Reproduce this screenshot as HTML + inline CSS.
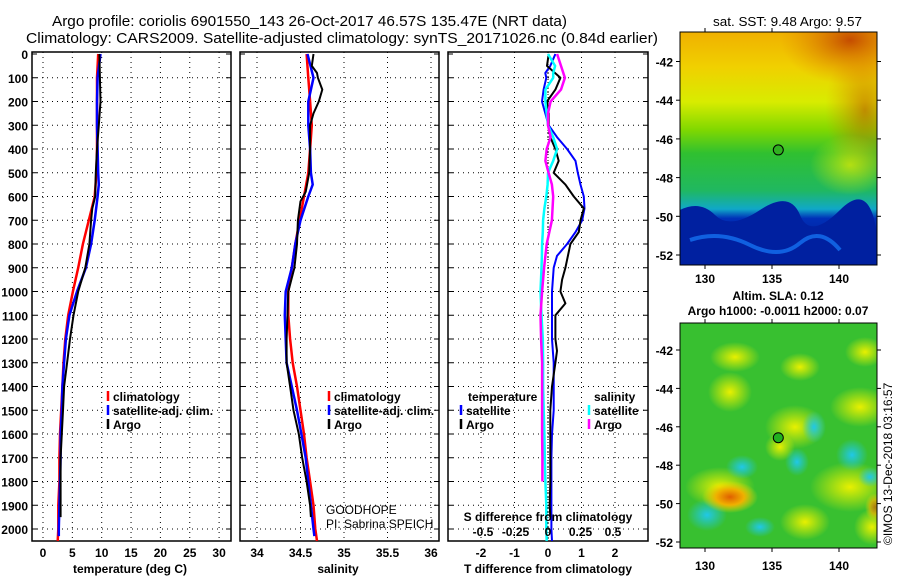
<!DOCTYPE html>
<html><head><meta charset="utf-8">
<style>
html,body{margin:0;padding:0;background:#fff;}
svg{display:block;font-family:"Liberation Sans",sans-serif;}
.t{font-weight:bold;font-size:12px;}
</style></head>
<body>
<svg id="fig" width="900" height="580" viewBox="0 0 900 580" xmlns="http://www.w3.org/2000/svg">
<defs>
<linearGradient id="sstg" x1="0" y1="0" x2="0" y2="1">
<stop offset="0" stop-color="#f0b000"/>
<stop offset="0.15" stop-color="#f0d000"/>
<stop offset="0.3" stop-color="#d8ec00"/>
<stop offset="0.42" stop-color="#80d800"/>
<stop offset="0.52" stop-color="#30c030"/>
<stop offset="0.68" stop-color="#20b860"/>
<stop offset="0.76" stop-color="#10a8c8"/>
<stop offset="0.8" stop-color="#0030b8"/>
<stop offset="1" stop-color="#001080"/>
</linearGradient>
<radialGradient id="hot" cx="0.5" cy="0.5" r="0.5"><stop offset="0" stop-color="#c04000" stop-opacity="0.9"/><stop offset="1" stop-color="#e08000" stop-opacity="0"/></radialGradient>
<radialGradient id="yb" cx="0.5" cy="0.5" r="0.5"><stop offset="0" stop-color="#e8f000"/><stop offset="1" stop-color="#e8f000" stop-opacity="0"/></radialGradient>
<radialGradient id="cb" cx="0.5" cy="0.5" r="0.5"><stop offset="0" stop-color="#20c8e8"/><stop offset="1" stop-color="#20c8e8" stop-opacity="0"/></radialGradient>
<radialGradient id="ob" cx="0.5" cy="0.5" r="0.5"><stop offset="0" stop-color="#e06000"/><stop offset="0.5" stop-color="#f0b000"/><stop offset="1" stop-color="#f0e000" stop-opacity="0"/></radialGradient>
<clipPath id="m1c"><rect x="680" y="32" width="197" height="233"/></clipPath>
<clipPath id="m2c"><rect x="680" y="323" width="197" height="225"/></clipPath>
</defs>
<text x="52" y="26" font-size="15" textLength="515" lengthAdjust="spacingAndGlyphs">Argo profile: coriolis 6901550_143 26-Oct-2017 46.57S 135.47E (NRT data)</text>
<text x="26" y="43" font-size="15" textLength="632" lengthAdjust="spacingAndGlyphs">Climatology: CARS2009. Satellite-adjusted climatology: synTS_20171026.nc (0.84d earlier)</text>
<text x="713" y="26" font-size="13" textLength="149" lengthAdjust="spacingAndGlyphs">sat. SST: 9.48 Argo: 9.57</text>
<g id="plots"></g>
<g id="maps"></g>
</svg>
<script>
// ---- data ----
const depthsClimT = [0,100,200,300,400,500,600,700,800,900,1000,1100,1200,1300,1400,1500,1600,1700,1800,1900,2000,2050];
const climTemp = [9.4,9.2,9.2,9.2,9.2,9.1,8.8,7.8,6.8,6.0,5.1,4.3,3.8,3.5,3.3,3.1,2.9,2.8,2.8,2.6,2.6,2.5];
const depthsSatT = [0,100,200,300,400,500,550,600,700,800,900,1000,1100,1200,1300,1400,1500,1600,1700,1800,1900,2000,2030];
const satTemp = [9.8,9.3,9.2,9.2,9.3,9.4,9.5,9.3,8.8,8.2,7.3,5.8,4.5,3.9,3.6,3.3,3.2,3.0,3.0,2.9,2.8,2.7,2.7];
const depthsArgo = [0,100,200,300,400,500,600,650,700,800,900,1000,1100,1200,1300,1400,1500,1600,1700,1800,1900,1950];
const argoTemp = [9.6,9.7,9.8,9.5,9.2,9.0,8.9,8.4,8.2,7.9,7.2,6.0,5.2,4.6,4.1,3.6,3.4,3.2,3.0,3.0,3.0,3.0];
const climSal = [34.57,34.59,34.61,34.63,34.61,34.59,34.54,34.49,34.44,34.40,34.36,34.36,34.38,34.41,34.46,34.50,34.54,34.57,34.61,34.65,34.67,34.69];
const satSal = [34.58,34.65,34.59,34.59,34.61,34.62,34.64,34.59,34.50,34.44,34.40,34.33,34.32,34.33,34.34,34.40,34.46,34.51,34.56,34.59,34.62,34.65,34.66];
const depthsArgoS = [0,50,80,100,150,200,250,300,400,500,580,620,700,800,900,1000,1100,1200,1300,1400,1500,1600,1700,1800,1900,1950];
const argoSal = [34.65,34.63,34.69,34.70,34.75,34.71,34.65,34.61,34.61,34.60,34.56,34.50,34.47,34.46,34.43,34.36,34.35,34.34,34.34,34.38,34.42,34.48,34.52,34.57,34.61,34.62];
const depthsDiff = [0,50,80,100,150,200,250,300,350,400,450,500,550,600,650,700,750,800,850,900,1000,1100,1200,1300,1400,1500,1600,1700,1800,1900,2000,2050];
const dTsat = [0.22,0.07,-0.08,-0.05,-0.13,-0.18,-0.08,0.02,0.27,0.57,0.82,0.89,0.97,1.07,1.09,1.02,0.82,0.57,0.27,0.17,0.12,0.12,0.12,0.17,0.17,0.17,0.12,0.10,0.10,0.10,0.10,0.12];
const depthsDiffA = [0,50,100,150,200,250,300,350,400,450,500,550,600,650,700,750,800,900,950,1000,1050,1100,1200,1250,1300,1400,1500,1600,1700,1800,1900,1950];
const dTargo = [0.02,-0.03,0.37,0.22,-0.03,0.02,0.02,0.07,0.22,0.32,0.17,0.52,0.77,1.07,0.97,0.92,0.67,0.52,0.42,0.37,0.52,0.22,0.22,0.27,0.22,0.12,0.07,0.07,0.07,0.07,0.05,0.07];
const dSsat = [0.0,0.055,0.04,0.04,-0.02,-0.02,-0.01,0.0,0.04,0.07,0.04,0.0,-0.003,-0.013,-0.028,-0.038,-0.04,-0.045,-0.047,-0.05,-0.058,-0.05,-0.04,-0.038,-0.038,-0.033,-0.028,-0.025,-0.02,-0.013,-0.013,-0.01];
const depthsDiffSA = [0,50,100,150,200,250,300,350,400,450,500,550,600,700,800,850,900,1000,1100,1200,1300,1400,1500,1600,1700,1800];
const dSargo = [0.07,0.10,0.13,0.10,0.02,0.0,0.0,0.02,-0.01,-0.02,0.005,0.03,0.04,0.03,-0.01,-0.02,-0.03,-0.045,-0.058,-0.053,-0.045,-0.045,-0.045,-0.045,-0.043,-0.043];
const depthTicks = [0,100,200,300,400,500,600,700,800,900,1000,1100,1200,1300,1400,1500,1600,1700,1800,1900,2000];
const tempTicks = [0,5,10,15,20,25,30];
const salTicks = [34,34.5,35,35.5,36];
const salTickLabels = ['34','34.5','35','35.5','36'];
const dTTicks = [-2,-1,0,1,2];
const dSTicks = [-0.5,-0.25,0,0.25,0.5];
const dSTickLabels = ['-0.5','-0.25','0','0.25','0.5'];
const lonTicks = [130,135,140];
const latTicks = [-42,-44,-46,-48,-50,-52];

const NS='http://www.w3.org/2000/svg';
const plots=document.getElementById('plots');
function el(tag,attrs,parent,txt){const e=document.createElementNS(NS,tag);for(const k in attrs)e.setAttribute(k,attrs[k]);if(txt!==undefined)e.textContent=txt;(parent||plots).appendChild(e);return e;}
const yTop=52,yBot=541;
const yScale=d=>54+d*0.2375;

function panel(name,x0,x1,xs,ticks,labels,xlabel,xlabelX){
  const g=el('g',{});
  
  
  depthTicks.forEach(d=>{if(d>0){const l=el('line',{x1:x0,x2:x1,y1:yScale(d),y2:yScale(d),stroke:'#000','stroke-width':1,'stroke-dasharray':'1,4'},g);}
    const tk=el('line',{x1:x0,x2:x0+5,y1:yScale(d),y2:yScale(d),stroke:'#000'},g);
    const tk2=el('line',{x1:x1-5,x2:x1,y1:yScale(d),y2:yScale(d),stroke:'#000'},g);});
  ticks.forEach((v,i)=>{const x=xs(v);
    const l=el('line',{x1:x,x2:x,y1:yTop,y2:yBot,stroke:'#000','stroke-dasharray':'1,4'},g);
    const t=el('text',{x:x,y:557,'text-anchor':'middle',class:'t'},g,labels[i]);});
  const r=el('rect',{x:x0,y:yTop,width:x1-x0,height:yBot-yTop,fill:'none',stroke:'#000','stroke-width':1.5},g);
  
  const xl=el('text',{x:xlabelX,y:573,'text-anchor':'middle',class:'t'},g,xlabel);
  
  return g;
}
function series(g,name,depths,vals,xs,color,w){
  const pts=depths.map((d,i)=>xs(vals[i]).toFixed(1)+','+yScale(d).toFixed(1)).join(' ');
  const p=el('polyline',{points:pts,fill:'none',stroke:color,'stroke-width':w,'stroke-linejoin':'round'},g);
  
}
function legend(g,name,x,y,color,label){
  const lg=el('g',{},g);
  
  el('line',{x1:x,x2:x,y1:y-10,y2:y,stroke:color,'stroke-width':2.5},lg);
  el('text',{x:x+5,y:y,class:'t'},lg,label);
}
depthTicks.forEach(d=>{const t=el('text',{x:28,y:yScale(d)+5,'text-anchor':'end',class:'t'},plots,String(d));});

// panel 1
const xT=v=>43+v*5.87;
const g1=panel('temperature-panel',32,231,xT,tempTicks,tempTicks.map(String),'temperature (deg C)',130);
series(g1,'climatology-temp-line',depthsClimT,climTemp,xT,'#f00',2.5);
series(g1,'satellite-temp-line',depthsSatT,satTemp,xT,'#00f',2.5);
series(g1,'argo-temp-line',depthsArgo,argoTemp,xT,'#000',2);
legend(g1,'legend-climatology',108,401,'#f00','climatology');
legend(g1,'legend-satellite-adj',108,415,'#00f','satellite-adj. clim.');
legend(g1,'legend-argo',108,429,'#000','Argo');

// panel 2
const xS=v=>257+(v-34)*87;
const g2=panel('salinity-panel',240,439,xS,salTicks,salTickLabels,'salinity',338);
series(g2,'climatology-sal-line',depthsClimT,climSal,xS,'#f00',2.5);
series(g2,'satellite-sal-line',depthsSatT,satSal,xS,'#00f',2.5);
series(g2,'argo-sal-line',depthsArgoS,argoSal,xS,'#000',2);
legend(g2,'legend-climatology-sal',329,401,'#f00','climatology');
legend(g2,'legend-satellite-adj-sal',329,415,'#00f','satellite-adj. clim.');
legend(g2,'legend-argo-sal',329,429,'#000','Argo');
let t=el('text',{x:326,y:514,'font-size':12},g2,'GOODHOPE');
t=el('text',{x:326,y:528,'font-size':12},g2,'PI: Sabrina SPEICH');

// panel 3
const xD=v=>548+v*33.5;
const xDS=v=>548+v*130;
const g3=panel('difference-panel',448,648,xD,dTTicks,dTTicks.map(String),'T difference from climatology',548);
const zl=el('line',{x1:548,x2:548,y1:yTop,y2:yBot,stroke:'#000','stroke-dasharray':'1,2'},g3);
series(g3,'temp-diff-satellite-line',depthsDiff,dTsat,xD,'#00f',2);
series(g3,'temp-diff-argo-line',depthsDiffA,dTargo,xD,'#000',2);
series(g3,'sal-diff-satellite-line',depthsDiff,dSsat,xDS,'#0ff',2.5);
series(g3,'sal-diff-argo-line',depthsDiffSA,dSargo,xDS,'#f0f',2.5);
t=el('text',{x:468,y:401,class:'t'},g3,'temperature');
legend(g3,'legend-t-satellite',461,415,'#00f','satellite');
legend(g3,'legend-t-argo',461,429,'#000','Argo');
t=el('text',{x:594,y:401,class:'t'},g3,'salinity');
legend(g3,'legend-s-satellite',589,415,'#0ff','satellite');
legend(g3,'legend-s-argo',589,429,'#f0f','Argo');
t=el('text',{x:548,y:521,'text-anchor':'middle',class:'t'},g3,'S difference from climatology');
dSTicks.forEach((v,i)=>{const tt=el('text',{x:xDS(v),y:536,'text-anchor':'middle',class:'t'},g3,dSTickLabels[i]);});

// maps
const maps=document.getElementById('maps');
function mapAxes(name,top,bot,latTop,latStep,labY){
  const g=el('g',{},maps);
  const lonX=v=>705+(v-130)*13.4;
  const latY=v=>latTop+(-42-v)*latStep;
  lonTicks.forEach(v=>{el('line',{x1:lonX(v),x2:lonX(v),y1:bot,y2:bot+4,stroke:'#000'},g);el('line',{x1:lonX(v),x2:lonX(v),y1:top-4,y2:top,stroke:'#000'},g);
    const tt=el('text',{x:lonX(v),y:labY,'text-anchor':'middle',class:'t','font-size':13},g,String(v));});
  latTicks.forEach(v=>{el('line',{x1:676,x2:680,y1:latY(v),y2:latY(v),stroke:'#000'},g);el('line',{x1:877,x2:881,y1:latY(v),y2:latY(v),stroke:'#000'},g);
    const tt=el('text',{x:673,y:latY(v)+5,'text-anchor':'end',class:'t'},g,String(v));});
  el('rect',{x:680,y:top,width:197,height:bot-top,fill:'none',stroke:'#000'},g);
  const c=el('circle',{cx:lonX(135.47),cy:latY(-46.57),r:5,fill:name==='sst-map'?'#30b020':'#20b020',stroke:'#000'},g);
  
}
let m1=el('g',{'clip-path':'url(#m1c)'},maps);
el('rect',{x:680,y:32,width:197,height:233,fill:'url(#sstg)'},m1);
el('ellipse',{cx:850,cy:40,rx:70,ry:45,fill:'url(#hot)'},m1);
el('ellipse',{cx:865,cy:110,rx:40,ry:70,fill:'url(#hot)','opacity':0.6},m1);
el('ellipse',{cx:850,cy:165,rx:40,ry:30,fill:'url(#yb)','opacity':0.7},m1);
el('path',{d:'M680 210 Q700 200 715 215 T760 210 T800 215 T840 210 T877 235 L877 265 L680 265Z',fill:'#0020a0'},m1);
el('path',{d:'M690 240 Q720 230 750 245 T800 243 T840 250',stroke:'#1060e0','stroke-width':4,fill:'none'},m1);
mapAxes('sst-map',32,265,61.5,19.35,283);

t=el('text',{x:778,y:300,'text-anchor':'middle',class:'t','font-size':13},maps,'Altim. SLA: 0.12');
t=el('text',{x:778,y:315,'text-anchor':'middle',class:'t','font-size':13},maps,'Argo h1000: -0.0011 h2000: 0.07');
let m2=el('g',{'clip-path':'url(#m2c)'},maps);
el('rect',{x:680,y:323,width:197,height:225,fill:'#38c030'},m2);
[[735,357,25,15],[800,367,20,14],[865,352,20,15],[730,392,22,20],[795,427,30,22],[860,407,30,20],[780,447,15,14],[850,487,40,25],[720,487,35,20],[805,522,25,18],[872,527,18,18]].forEach(a=>el('ellipse',{cx:a[0],cy:a[1],rx:a[2],ry:a[3],fill:'url(#yb)'},m2));
[[814,427,12,16],[742,467,16,12],[797,462,12,14],[707,515,20,16],[852,455,16,16],[760,527,15,10],[870,477,12,10]].forEach(a=>el('ellipse',{cx:a[0],cy:a[1],rx:a[2],ry:a[3],fill:'url(#cb)'},m2));
el('ellipse',{cx:730,cy:497,rx:28,ry:16,fill:'url(#ob)'},m2);
el('ellipse',{cx:875,cy:507,rx:10,ry:14,fill:'url(#ob)','opacity':0.7},m2);
mapAxes('sla-map',323,548,350,19.2,570);
t=el('text',{x:0,y:0,'font-size':12,transform:'translate(892,545) rotate(-90)'},maps,'©IMOS 13-Dec-2018 03:16:57');
</script>
</body></html>
